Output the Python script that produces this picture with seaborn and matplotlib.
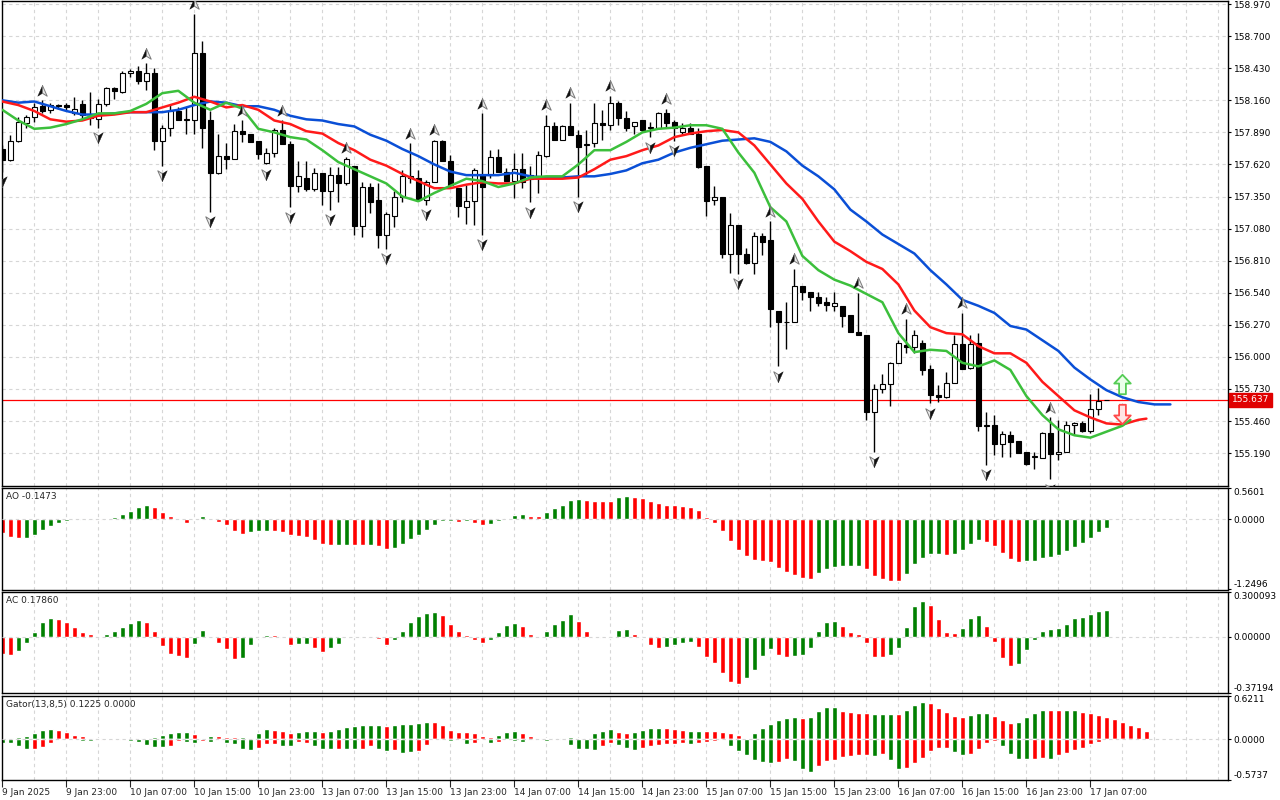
import matplotlib
matplotlib.use("Agg")
import numpy as np
import pandas as pd
import matplotlib.pyplot as plt
from matplotlib.path import Path
from matplotlib.transforms import blended_transform_factory
import seaborn as sns

# hourly candles, 9 Jan 15:00 .. 17 Jan 09:00
opens = [157.75, 157.66, 157.82, 157.97, 158.02, 158.11, 158.08, 158.12, 158.12, 158.05,
         158.13, 158.01, 158.00, 158.13, 158.26, 158.23, 158.39, 158.41, 158.32, 158.39,
         157.82, 157.93, 158.07, 157.99, 157.99, 158.56, 157.99, 157.55, 157.69, 157.67,
         157.90, 157.88, 157.82, 157.63, 157.72, 157.91, 157.79, 157.44, 157.51, 157.41,
         157.55, 157.40, 157.53, 157.46, 157.61, 157.10, 157.43, 157.32, 157.03, 157.19,
         157.35, 157.51, 157.51, 157.32, 157.47, 157.82, 157.65, 157.42, 157.26, 157.31,
         157.53, 157.53, 157.68, 157.56, 157.48, 157.58, 157.50, 157.51, 157.69, 157.94,
         157.83, 157.94, 157.87, 157.78, 157.80, 157.97, 157.95, 158.14, 158.01, 157.94,
         157.99, 157.93, 157.93, 158.05, 157.98, 157.89, 157.93, 157.88, 157.61, 157.32,
         157.35, 156.87, 157.11, 156.87, 156.79, 157.02, 156.98, 156.39, 156.29, 156.29,
         156.60, 156.55, 156.50, 156.46, 156.43, 156.43, 156.35, 156.21, 156.18, 155.54,
         155.73, 155.77, 155.95, 156.10, 156.08, 156.12, 155.90, 155.68, 155.66, 155.78,
         156.11, 155.91, 156.12, 155.42, 155.43, 155.27, 155.34, 155.29, 155.20, 155.16,
         155.15, 155.36, 155.18, 155.20, 155.43, 155.44, 155.38, 155.56, 155.637]
highs = [157.78, 157.87, 158.02, 158.04, 158.14, 158.16, 158.14, 158.13, 158.14, 158.19,
         158.16, 158.23, 158.17, 158.27, 158.27, 158.41, 158.42, 158.45, 158.47, 158.43,
         157.95, 158.13, 158.10, 158.10, 158.89, 158.66, 158.07, 157.88, 157.80, 157.96,
         157.99, 157.88, 157.82, 157.76, 157.93, 157.99, 157.82, 157.65, 157.65, 157.59,
         157.55, 157.60, 157.60, 157.68, 157.61, 157.47, 157.46, 157.46, 157.22, 157.40,
         157.57, 157.80, 157.57, 157.49, 157.83, 157.83, 157.70, 157.42, 157.45, 157.59,
         158.05, 157.74, 157.75, 157.59, 157.72, 157.72, 157.61, 157.73, 158.04, 157.98,
         157.95, 158.14, 157.91, 157.91, 158.14, 158.08, 158.20, 158.15, 158.07, 157.98,
         157.99, 157.98, 158.06, 158.09, 157.99, 157.97, 157.97, 157.93, 157.61, 157.44,
         157.35, 157.21, 157.11, 156.92, 157.05, 157.04, 157.14, 156.39, 156.46, 156.74,
         156.60, 156.55, 156.55, 156.50, 156.55, 156.43, 156.35, 156.54, 156.18, 155.77,
         155.86, 155.96, 156.14, 156.32, 156.23, 156.14, 155.93, 155.76, 155.87, 156.18,
         156.37, 156.18, 156.20, 155.54, 155.51, 155.38, 155.38, 155.29, 155.20, 155.20,
         155.37, 155.49, 155.47, 155.46, 155.45, 155.46, 155.69, 155.74, 155.637]
lows = [157.56, 157.65, 157.81, 157.93, 157.98, 158.05, 158.05, 158.09, 158.08, 158.04,
        157.99, 157.95, 157.93, 158.11, 158.17, 158.22, 158.36, 158.30, 158.25, 157.74,
        157.61, 157.86, 157.99, 157.88, 157.88, 157.76, 157.22, 157.54, 157.58, 157.67,
        157.81, 157.81, 157.67, 157.62, 157.68, 157.79, 157.26, 157.39, 157.40, 157.40,
        157.28, 157.24, 157.30, 157.45, 157.03, 157.01, 157.21, 156.92, 156.91, 157.09,
        157.30, 157.46, 157.32, 157.28, 157.47, 157.65, 157.45, 157.18, 157.12, 157.11,
        157.03, 157.51, 157.56, 157.48, 157.34, 157.42, 157.30, 157.38, 157.68, 157.83,
        157.83, 157.87, 157.35, 157.53, 157.77, 157.83, 157.91, 157.95, 157.90, 157.88,
        157.89, 157.85, 157.93, 157.93, 157.82, 157.88, 157.88, 157.59, 157.19, 157.28,
        156.83, 156.71, 156.70, 156.78, 156.70, 156.86, 156.25, 155.92, 156.07, 156.29,
        156.48, 156.39, 156.43, 156.39, 156.39, 156.25, 156.21, 156.18, 155.47, 155.20,
        155.70, 155.59, 155.95, 156.03, 156.03, 155.85, 155.61, 155.62, 155.65, 155.78,
        155.90, 155.90, 155.38, 155.09, 155.17, 155.16, 155.16, 155.19, 155.09, 155.06,
        155.15, 154.97, 155.13, 155.20, 155.34, 155.37, 155.36, 155.51, 155.637]
closes = [157.66, 157.82, 157.98, 158.02, 158.10, 158.07, 158.12, 158.11, 158.10, 158.09,
          158.04, 158.02, 158.13, 158.26, 158.24, 158.39, 158.41, 158.32, 158.39, 157.82,
          157.93, 158.07, 157.99, 158.00, 158.56, 157.93, 157.55, 157.69, 157.67, 157.90,
          157.88, 157.81, 157.71, 157.72, 157.91, 157.79, 157.44, 157.52, 157.41, 157.55,
          157.40, 157.53, 157.46, 157.67, 157.10, 157.43, 157.30, 157.03, 157.20, 157.35,
          157.52, 157.52, 157.32, 157.47, 157.82, 157.65, 157.45, 157.27, 157.31, 157.57,
          157.43, 157.68, 157.56, 157.48, 157.58, 157.47, 157.53, 157.70, 157.94, 157.83,
          157.94, 157.87, 157.77, 157.79, 157.97, 157.95, 158.14, 158.01, 157.93, 157.98,
          157.91, 157.93, 158.05, 157.97, 157.93, 157.93, 157.88, 157.60, 157.31, 157.35,
          156.87, 157.11, 156.87, 156.79, 157.02, 156.97, 156.40, 156.29, 156.29, 156.60,
          156.55, 156.50, 156.45, 156.44, 156.45, 156.34, 156.21, 156.18, 155.54, 155.73,
          155.77, 155.95, 156.12, 156.08, 156.18, 155.89, 155.68, 155.66, 155.78, 156.11,
          155.90, 156.11, 155.42, 155.43, 155.27, 155.35, 155.28, 155.19, 155.10, 155.16,
          155.36, 155.18, 155.20, 155.43, 155.44, 155.38, 155.56, 155.63, 155.637]
last_price = 155.637

# alligator lines, read every 2nd bar (shifted forward 8 / 5 / 3 bars)
jaw_x = list(range(0, 147, 2))
jaw = [158.16, 158.14, 158.15, 158.11, 158.07, 158.04, 158.04, 158.05, 158.06, 158.06,
       158.06, 158.08, 158.12, 158.15, 158.14, 158.11, 158.11, 158.08, 158.03, 158.00,
       157.99, 157.96, 157.94, 157.87, 157.82, 157.75, 157.69, 157.62, 157.56, 157.53,
       157.53, 157.53, 157.55, 157.52, 157.51, 157.51, 157.52, 157.52, 157.54, 157.57,
       157.63, 157.66, 157.72, 157.76, 157.79, 157.82, 157.83, 157.84, 157.81, 157.73,
       157.61, 157.52, 157.41, 157.24, 157.14, 157.03, 156.95, 156.87, 156.73, 156.61,
       156.48, 156.43, 156.37, 156.26, 156.23, 156.14, 156.05, 155.91, 155.81, 155.72,
       155.66, 155.62, 155.60, 155.60]
teeth_x = list(range(0, 143, 2)) + [143]
teeth = [158.15, 158.12, 158.07, 158.00, 157.98, 157.99, 158.03, 158.04, 158.06, 158.06,
         158.10, 158.14, 158.19, 158.15, 158.10, 158.12, 158.08, 157.99, 157.96, 157.90,
         157.88, 157.80, 157.74, 157.66, 157.61, 157.54, 157.48, 157.42, 157.42, 157.45,
         157.47, 157.46, 157.46, 157.50, 157.50, 157.50, 157.51, 157.58, 157.66, 157.69,
         157.74, 157.78, 157.85, 157.88, 157.90, 157.91, 157.89, 157.78, 157.62, 157.46,
         157.33, 157.14, 156.97, 156.89, 156.80, 156.74, 156.61, 156.39, 156.25, 156.20,
         156.19, 156.09, 156.03, 156.03, 155.95, 155.79, 155.67, 155.55, 155.49, 155.44,
         155.43, 155.47, 155.48]
lips_x = list(range(0, 141, 2)) + [141]
lips = [158.08, 157.99, 157.92, 157.93, 157.96, 158.00, 158.05, 158.05, 158.07, 158.13,
        158.22, 158.24, 158.14, 158.08, 158.14, 158.09, 157.92, 157.89, 157.85, 157.83,
        157.74, 157.64, 157.58, 157.52, 157.46, 157.35, 157.31, 157.38, 157.44, 157.50,
        157.48, 157.43, 157.46, 157.51, 157.52, 157.52, 157.62, 157.74, 157.74, 157.81,
        157.89, 157.92, 157.93, 157.95, 157.95, 157.92, 157.72, 157.55, 157.26, 157.14,
        156.85, 156.73, 156.65, 156.60, 156.53, 156.46, 156.20, 156.04, 156.06, 156.05,
        155.95, 155.92, 155.97, 155.89, 155.67, 155.51, 155.39, 155.34, 155.32, 155.37,
        155.42, 155.47]

frac_up = [5, 18, 24, 30, 35, 43, 51, 54, 60, 68, 71, 76, 83, 96, 99, 107, 113, 120, 131]
frac_dn = [0, 12, 20, 26, 33, 36, 41, 48, 53, 60, 66, 72, 81, 84, 92, 97, 109, 116, 123, 131]

# signal arrows at the right end
sig_bar = 140
sig_up_price = 155.77
sig_dn_price = 155.52

price_levels = [158.970, 158.700, 158.430, 158.160, 157.890, 157.620, 157.350, 157.080,
                156.810, 156.540, 156.270, 156.000, 155.730, 155.460, 155.190]

ao = [-0.25, -0.32, -0.334, -0.328, -0.28, -0.185, -0.113, -0.06, -0.024, -0.012,
      -0.006, -0.004, -0.006, -0.002, 0.04, 0.10, 0.15, 0.23, 0.257, 0.22,
      0.137, 0.066, 0.006, -0.06, -0.018, 0.06, 0.006, -0.054, -0.10, -0.21,
      -0.257, -0.22, -0.21, -0.205, -0.21, -0.22, -0.28, -0.30, -0.32, -0.37,
      -0.436, -0.454, -0.45, -0.448, -0.45, -0.46, -0.455, -0.478, -0.53, -0.51,
      -0.436, -0.346, -0.275, -0.185, -0.096, -0.036, -0.03, -0.042, -0.024, -0.06,
      -0.096, -0.09, -0.024, 0.018, 0.078, 0.096, 0.06, 0.055, 0.13, 0.20,
      0.257, 0.346, 0.364, 0.34, 0.33, 0.33, 0.33, 0.40, 0.418, 0.394,
      0.376, 0.33, 0.30, 0.257, 0.257, 0.233, 0.215, 0.167, 0.042, -0.06,
      -0.21, -0.39, -0.55, -0.657, -0.72, -0.746, -0.764, -0.87, -0.94, -0.997,
      -1.05, -1.063, -0.96, -0.89, -0.854, -0.836, -0.836, -0.824, -0.884, -1.015,
      -1.063, -1.105, -1.105, -0.974, -0.80, -0.687, -0.62, -0.62, -0.64, -0.62,
      -0.54, -0.436, -0.364, -0.40, -0.478, -0.603, -0.705, -0.764, -0.74, -0.74,
      -0.693, -0.675, -0.64, -0.56, -0.496, -0.424, -0.334, -0.227, -0.1473]
ao_col = ("rrrggggggg" "ggrggggggr" "rrrrggrrrr" "rgggrrrrrr" "rrggrrgrrg"
          "gggggggrgr" "rgggggrrgg" "gggrrrrggr" "rrrrrrrrrr" "rrrrrrrrrr"
          "rrggggggrr" "rrrgggggrg" "gggrrrrrgg" "ggggggggg")

ac = [-0.116, -0.12, -0.093, -0.038, 0.036, 0.102, 0.127, 0.12, 0.102, 0.067,
      0.036, 0.022, 0.007, 0.022, 0.04, 0.067, 0.093, 0.113, 0.102, 0.04,
      -0.06, -0.111, -0.127, -0.14, -0.045, 0.047, 0.004, -0.038, -0.078, -0.145,
      -0.14, -0.053, -0.009, 0.013, 0.01, -0.004, -0.052, -0.047, -0.045, -0.071,
      -0.098, -0.071, -0.045, -0.004, -0.002, -0.007, -0.009, -0.016, -0.056, -0.022,
      0.04, 0.102, 0.142, 0.16, 0.167, 0.147, 0.087, 0.04, 0.013, -0.022,
      -0.042, -0.022, 0.033, 0.08, 0.093, 0.073, 0.02, -0.002, 0.04, 0.087,
      0.113, 0.153, 0.107, 0.04, -0.004, -0.009, -0.007, 0.047, 0.053, 0.02,
      -0.004, -0.051, -0.073, -0.065, -0.051, -0.038, -0.031, -0.065, -0.131, -0.171,
      -0.238, -0.298, -0.312, -0.272, -0.218, -0.125, -0.078, -0.118, -0.131, -0.125,
      -0.118, -0.071, 0.038, 0.10, 0.107, 0.073, 0.036, 0.022, -0.038, -0.131,
      -0.132, -0.118, -0.071, 0.067, 0.207, 0.24, 0.214, 0.12, 0.036, 0.029,
      0.06, 0.127, 0.147, 0.073, -0.031, -0.14, -0.191, -0.178, -0.085, -0.022,
      0.04, 0.053, 0.06, 0.089, 0.127, 0.133, 0.156, 0.174, 0.1786]
ac_col = ("rrgggggrrr" "rrrgggggrr" "rrrrggrrrr" "ggggrrrggr" "rggggrrrrg"
          "gggggrrrrr" "rggggrrrgg" "ggrrrrgggr" "rrrggggrrr" "rrrggggrrg"
          "gggggrrrrr" "rgggggrrrr" "gggrrrrggg" "ggggggggg")

gator_up = [0.015, 0.024, 0.038, 0.047, 0.095, 0.133, 0.147, 0.128, 0.104, 0.066,
            0.047, 0.019, 0.014, 0.012, 0.01, 0.005, 0.005, 0.019, 0.024, 0.033,
            0.062, 0.09, 0.104, 0.1, 0.071, 0.014, 0.047, 0.047, 0.033, 0.033,
            0.033, 0.024, 0.085, 0.142, 0.133, 0.119, 0.09, 0.104, 0.119, 0.119,
            0.104, 0.119, 0.147, 0.18, 0.19, 0.2, 0.2, 0.2, 0.19, 0.2,
            0.218, 0.218, 0.228, 0.246, 0.246, 0.204, 0.133, 0.104, 0.104, 0.09,
            0.047, 0.033, 0.066, 0.104, 0.119, 0.09, 0.047, 0.019, 0.014, 0.014,
            0.014, 0.033, 0.024, 0.024, 0.09, 0.119, 0.147, 0.104, 0.09, 0.104,
            0.133, 0.161, 0.161, 0.161, 0.147, 0.133, 0.119, 0.119, 0.119, 0.119,
            0.104, 0.09, 0.062, 0.01, 0.09, 0.161, 0.218, 0.275, 0.303, 0.318,
            0.303, 0.318, 0.403, 0.46, 0.46, 0.40, 0.389, 0.374, 0.374, 0.36,
            0.36, 0.36, 0.36, 0.417, 0.488, 0.531, 0.517, 0.446, 0.389, 0.332,
            0.318, 0.346, 0.374, 0.374, 0.332, 0.275, 0.232, 0.246, 0.318, 0.374,
            0.417, 0.417, 0.417, 0.417, 0.417, 0.389, 0.374, 0.346, 0.318, 0.289,
            0.246, 0.204, 0.175, 0.1225]
gator_up_col = ("gggggggrrr" "rrrrrrgggg" "ggggrrgrrr" "ggggrrrggg" "rgggggggrg"
                "ggggrrrrrr" "rrgggrrrrg" "ggrggggrrg" "gggrrrggrr" "rrrrgggggg"
                "rggggrrrrg" "ggrgggrrrr" "rgggrrrggg" "grrggrrrrr" "rrrr")
gator_dn = [0.047, 0.057, 0.095, 0.133, 0.133, 0.104, 0.047, 0.009, 0.009, 0.009,
            0.019, 0.024, 0.014, 0.01, 0.008, 0.005, 0.019, 0.038, 0.076, 0.104,
            0.104, 0.095, 0.024, 0.038, 0.057, 0.024, 0.033, 0.005, 0.047, 0.062,
            0.142, 0.152, 0.119, 0.071, 0.062, 0.095, 0.095, 0.038, 0.047, 0.095,
            0.133, 0.142, 0.133, 0.142, 0.142, 0.142, 0.095, 0.142, 0.166, 0.152,
            0.19, 0.171, 0.161, 0.076, 0.005, 0.009, 0.024, 0.01, 0.062, 0.047,
            0.005, 0.047, 0.033, 0.005, 0.024, 0.033, 0.005, 0.005, 0.019, 0.005,
            0.005, 0.076, 0.133, 0.133, 0.152, 0.095, 0.047, 0.085, 0.119, 0.152,
            0.119, 0.095, 0.085, 0.062, 0.062, 0.047, 0.062, 0.047, 0.033, 0.024,
            0.009, 0.095, 0.166, 0.218, 0.294, 0.322, 0.337, 0.322, 0.28, 0.308,
            0.422, 0.46, 0.379, 0.308, 0.294, 0.251, 0.237, 0.218, 0.218, 0.228,
            0.204, 0.289, 0.417, 0.403, 0.332, 0.26, 0.161, 0.119, 0.119, 0.175,
            0.218, 0.204, 0.142, 0.057, 0.028, 0.09, 0.204, 0.275, 0.275, 0.275,
            0.26, 0.275, 0.223, 0.19, 0.152, 0.119, 0.062, 0.033, 0.01, 0.004,
            0.014, 0.0]
gator_dn_col = ("ggggrrrrgg" "ggrrrrgggg" "grrggrgrgg" "ggrrrggrrg" "ggrggrrggr"
                "ggrrrggrgr" "rgrrggrrgr" "gggggrrggg" "rrrrrrgrrr" "rggggggrrg"
                "ggrrrrrrrg" "rggrrrrrrg" "grrrrggggr" "rgrrrrrrrr" "gr")

tick_bars = list(range(0, 137, 8))
tick_text = ["9 Jan 2025", "9 Jan 23:00", "10 Jan 07:00", "10 Jan 15:00", "10 Jan 23:00",
             "13 Jan 07:00", "13 Jan 15:00", "13 Jan 23:00", "14 Jan 07:00", "14 Jan 15:00",
             "14 Jan 23:00", "15 Jan 07:00", "15 Jan 15:00", "15 Jan 23:00", "16 Jan 07:00",
             "16 Jan 15:00", "16 Jan 23:00", "17 Jan 07:00"]

sns.set_style("white")
plt.rcParams["font.family"] = ["DejaVu Sans"]
plt.rcParams["font.size"] = 6.5

GREEN, RED = "#008000", "#ff0000"
GRID = dict(color="#d6d6d6", lw=0.8, ls=(0, (3, 3)), zorder=0)
W, H = 1280, 800

fig = plt.figure(figsize=(12.8, 8), dpi=100)
fig.patch.set_facecolor("white")


def pane(x0, y0, x1, y1):
    return fig.add_axes([x0 / W, 1 - y1 / H, (x1 - x0) / W, (y1 - y0) / H])


ax = pane(1.5, 1, 1228, 486)
ax_ao = pane(1.5, 488, 1228, 589.5)
ax_ac = pane(1.5, 592, 1228, 692.7)
ax_gt = pane(1.5, 695.5, 1228, 780)

for a in (ax, ax_ao, ax_ac, ax_gt):
    a.set_facecolor("white")
    a.set_xlim(-0.1, 153.2)
    for k in range(4, 153, 4):
        a.axvline(k, **GRID)
    for s in a.spines.values():
        s.set_color("black")
        s.set_linewidth(1)
    a.yaxis.tick_right()
    a.tick_params(axis="y", length=2.5, width=0.8, pad=1.5, labelsize=6.5,
                  direction="out", colors="black")
    a.tick_params(axis="x", bottom=False, labelbottom=False)

# ---- main price pane
ax.set_ylim(154.913, 158.996)
for p in price_levels:
    ax.axhline(p, **GRID)
ax.set_yticks(price_levels, [f"{p:.3f}" for p in price_levels])

o, h, l, c = map(np.array, (opens, highs, lows, closes))
bars = np.arange(len(o))
ax.vlines(bars, l, h, color="black", lw=1, zorder=2)
body_low = np.minimum(o, c)
body_h = np.maximum(np.abs(c - o), 0.003)
ax.bar(bars, body_h, bottom=body_low, width=0.62,
       color=np.where(c >= o, "white", "black"), edgecolor="black", linewidth=0.8, zorder=3)

ax.axhline(last_price, color="#ff0000", lw=0.9, zorder=1.5)

for xs, ys, col in ((jaw_x, jaw, "#0a4fd6"), (teeth_x, teeth, "#ff1a1a"), (lips_x, lips, "#3cbf3c")):
    df = pd.DataFrame({"bar": xs, "price": ys})
    sns.lineplot(data=df, x="bar", y="price", ax=ax, color=col, linewidth=1.8,
                 legend=False, zorder=4)
ax.set_xlabel("")
ax.set_ylabel("")

# fractal arrows (two-tone arrowheads)
up_left = Path([(0, 1), (0, -0.3), (-0.8, -0.8), (0, 1)])
up_right = Path([(0, 1), (0.8, -0.8), (0, -0.3), (0, 1)])
dn_left = Path([(0, -1), (-0.8, 0.8), (0, 0.3), (0, -1)])
dn_right = Path([(0, -1), (0, 0.3), (0.8, 0.8), (0, -1)])
gap = 0.08
up_y = [highs[i] + gap for i in frac_up]
dn_y = [lows[i] - gap for i in frac_dn]
ax.plot(frac_up, up_y, ls="none", marker=up_left, ms=8.5, mfc="#111111", mec="#111111", mew=0.3, zorder=5)
ax.plot(frac_up, up_y, ls="none", marker=up_right, ms=8.5, mfc="#e8e8e8", mec="#7a7a7a", mew=0.7, zorder=5)
ax.plot(frac_dn, dn_y, ls="none", marker=dn_left, ms=8.5, mfc="#e8e8e8", mec="#7a7a7a", mew=0.7, zorder=5)
ax.plot(frac_dn, dn_y, ls="none", marker=dn_right, ms=8.5, mfc="#111111", mec="#111111", mew=0.3, zorder=5)

# signal block arrows
blk_up = Path([(-0.35, -1), (0.35, -1), (0.35, 0.1), (0.85, 0.1), (0, 1), (-0.85, 0.1), (-0.35, 0.1), (-0.35, -1)])
blk_dn = Path([(-0.35, 1), (0.35, 1), (0.35, -0.1), (0.85, -0.1), (0, -1), (-0.85, -0.1), (-0.35, -0.1), (-0.35, 1)])
ax.plot([sig_bar], [sig_up_price], ls="none", marker=blk_up, ms=14, mfc="#eaffea", mec="#55cc55", mew=1.3, zorder=6)
ax.plot([sig_bar], [sig_dn_price], ls="none", marker=blk_dn, ms=14, mfc="#ffe4e4", mec="#ff4a4a", mew=1.3, zorder=6)

ax.annotate(f"{last_price:.3f}", xy=(1, last_price),
            xycoords=blended_transform_factory(ax.transAxes, ax.transData),
            xytext=(3, 0), textcoords="offset points", ha="left", va="center",
            color="white", fontsize=6.5, annotation_clip=False,
            bbox=dict(boxstyle="square,pad=0.3", fc="#e00000", ec="#e00000"), zorder=10)


# ---- oscillators
def osc(a, vals, cols, lo, hi, labels, title):
    a.set_ylim(lo, hi)
    x = np.arange(len(vals))
    a.bar(x, vals, width=0.55, color=[GREEN if k == "g" else RED for k in cols], zorder=2)
    a.axhline(0, color="#d6d6d6", lw=0.8, ls=(0, (3, 3)), zorder=3)
    a.set_yticks([hi, 0, lo], labels)
    tl = a.get_yticklabels()
    tl[0].set_va("top")
    tl[-1].set_va("bottom")
    a.annotate(title, xy=(0, 1), xycoords="axes fraction", xytext=(3.5, -3),
               textcoords="offset points", ha="left", va="top", fontsize=6.5)


osc(ax_ao, ao, ao_col, -1.2496, 0.5601, ["0.5601", "0.0000", "-1.2496"], "AO -0.1473")
osc(ax_ac, ac, ac_col, -0.37194, 0.300093, ["0.300093", "0.00000", "-0.37194"], "AC 0.17860")
osc(ax_gt, gator_up, gator_up_col, -0.5737, 0.6211, ["0.6211", "0.0000", "-0.5737"],
    "Gator(13,8,5) 0.1225 0.0000")
ax_gt.bar(np.arange(len(gator_dn)), -np.array(gator_dn), width=0.55,
          color=[GREEN if k == "g" else RED for k in gator_dn_col], zorder=2)

ax_gt.set_xticks(tick_bars, tick_text)
ax_gt.tick_params(axis="x", bottom=True, labelbottom=True, length=5, width=0.8,
                  pad=0.5, direction="out", labelsize=6.5)
for t in ax_gt.get_xticklabels():
    t.set_ha("left")

fig.savefig("out.png", dpi=100, facecolor="white")
